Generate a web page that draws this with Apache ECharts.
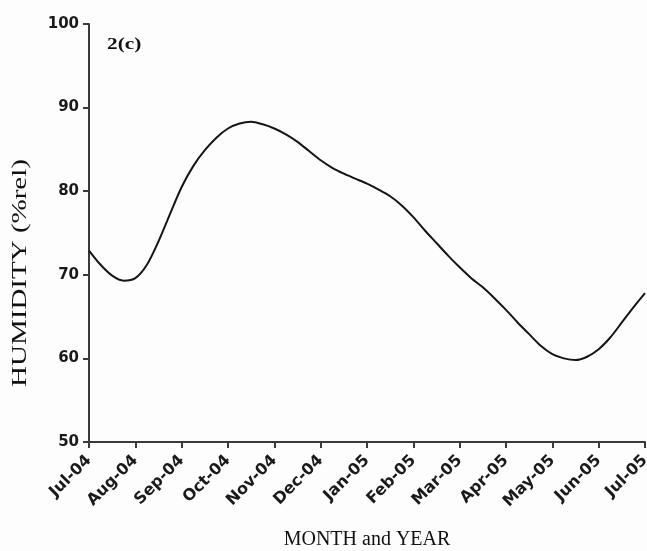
<!DOCTYPE html>
<html>
<head>
<meta charset="utf-8">
<script src="https://cdn.jsdelivr.net/npm/echarts@6/dist/echarts.min.js"></script>
<style>
  html, body { margin: 0; padding: 0; background: #fdfdfd; }
  #chart { width: 647px; height: 551px; }
</style>
</head>
<body>
<div id="chart"></div>
<script>
// Month tick labels (one per tick, Jul-04 .. Jul-05)
const months = ['Jul-04', 'Aug-04', 'Sep-04', 'Oct-04', 'Nov-04', 'Dec-04',
                'Jan-05', 'Feb-05', 'Mar-05', 'Apr-05', 'May-05', 'Jun-05', 'Jul-05'];

// Position along the time axis, in months since Jul-04 (quarter-month steps)
const monthPos = [
  0, 0.25, 0.5, 0.75, 1, 1.25, 1.5, 1.75, 2, 2.25, 2.5, 2.75,
  3, 3.25, 3.5, 3.75, 4, 4.25, 4.5, 4.75, 5, 5.25, 5.5, 5.75,
  6, 6.25, 6.5, 6.75, 7, 7.25, 7.5, 7.75, 8, 8.25, 8.5, 8.75,
  9, 9.25, 9.5, 9.75, 10, 10.25, 10.5, 10.75, 11, 11.25, 11.5, 11.75, 12
];

// Relative humidity (%rel)
const humidity = [
  72.9, 71.2, 69.9, 69.3, 69.6, 71.2, 74.0, 77.3, 80.5, 83.0, 84.9, 86.4,
  87.5, 88.1, 88.3, 88.0, 87.5, 86.8, 85.9, 84.8, 83.7, 82.8, 82.1, 81.5,
  80.9, 80.2, 79.4, 78.3, 76.9, 75.3, 73.8, 72.3, 70.9, 69.6, 68.5, 67.2,
  65.8, 64.3, 62.9, 61.5, 60.5, 60.0, 59.8, 60.2, 61.1, 62.5, 64.3, 66.1, 67.8
];

// Y axis range and tick step
const yMin = 50, yMax = 100, yStep = 10;

const chart = echarts.init(document.getElementById('chart'), null, { renderer: 'canvas' });

const axisColor = '#3a3a3a';
const tickFont = 'DejaVu Sans';

chart.setOption({
  animation: false,
  backgroundColor: '#fdfdfd',
  grid: {
    left: 89, right: 2, top: 24, bottom: 109,
    containLabel: false,
    outerBoundsMode: 'none'
  },
  graphic: [
    {
      // panel tag
      type: 'text',
      x: 107,
      y: 45,
      scaleX: 1.25,
      style: {
        text: '2(c)',
        fontFamily: 'Liberation Serif',
        fontWeight: 'bold',
        fontSize: 17,
        fill: '#111',
        textAlign: 'left',
        textVerticalAlign: 'middle'
      }
    },
    {
      // vertical axis title
      type: 'text',
      x: 21,
      y: 273,
      rotation: Math.PI / 2,
      scaleX: 1.45,
      style: {
        text: 'HUMIDITY (%rel)',
        fontFamily: 'Liberation Serif',
        fontSize: 20,
        fill: '#111',
        textAlign: 'center',
        textVerticalAlign: 'middle'
      }
    }
  ],
  xAxis: {
    type: 'value',
    min: 0,
    max: months.length - 1,
    interval: 1,
    name: 'MONTH and YEAR',
    nameLocation: 'middle',
    nameGap: 88,
    nameTextStyle: { fontFamily: 'Liberation Serif', fontSize: 20, color: '#111' },
    axisLine: { show: true, lineStyle: { color: axisColor, width: 2 } },
    axisTick: { show: true, length: 6, lineStyle: { color: axisColor, width: 2 } },
    splitLine: { show: false },
    axisLabel: {
      rotate: 45,
      margin: 16,
      fontFamily: tickFont,
      fontWeight: 'bold',
      fontSize: 16,
      color: '#1a1a1a',
      formatter: v => months[Math.round(v)]
    }
  },
  yAxis: {
    type: 'value',
    min: yMin,
    max: yMax,
    interval: yStep,
    axisLine: { show: true, lineStyle: { color: axisColor, width: 2 } },
    axisTick: { show: true, length: 6, lineStyle: { color: axisColor, width: 2 } },
    splitLine: { show: false },
    axisLabel: {
      margin: 10,
      fontFamily: tickFont,
      fontWeight: 'bold',
      fontSize: 15,
      color: '#1a1a1a'
    }
  },
  series: [{
    type: 'line',
    data: monthPos.map((m, i) => [m, humidity[i]]),
    smooth: 0.3,
    showSymbol: false,
    lineStyle: { color: '#151515', width: 2 }
  }]
});
</script>
</body>
</html>
